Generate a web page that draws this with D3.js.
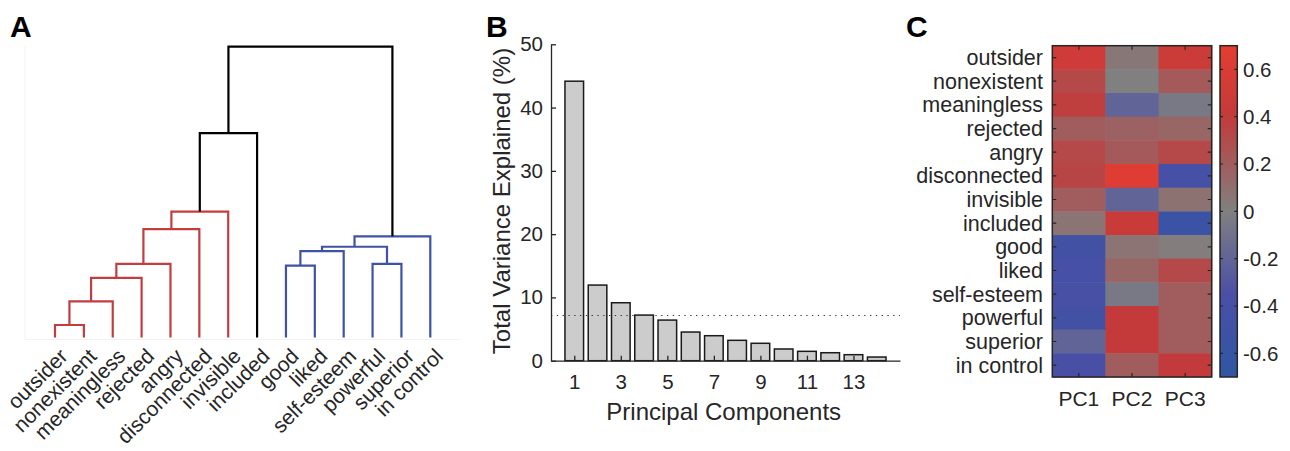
<!DOCTYPE html>
<html>
<head>
<meta charset="utf-8">
<script src="https://cdn.jsdelivr.net/npm/d3@7"></script>
<style>
  body { margin: 0; background: #fff; }
  svg { display: block; font-family: 'Liberation Sans', Arial, sans-serif; }
  .axis path, .axis line { stroke: #262626; stroke-width: 1.3; }
  .axis text { fill: #262626; font-size: 20.5px; font-family: 'Liberation Sans', Arial, sans-serif; }
  .lbl { fill: #262626; }
</style>
</head>
<body>
<div id="chart"></div>
<script>
// ---- data ----
const leafLabels = ['outsider','nonexistent','meaningless','rejected','angry','disconnected',
  'invisible','included','good','liked','self-esteem','powerful','superior','in control'];

// linkage rows: [child1, child2, height]; leaves are 0..13, new nodes 14, 15, ...
const linkage = [
  [0, 1, 0.043],
  [14, 2, 0.124],
  [15, 3, 0.205],
  [8, 9, 0.247],
  [16, 4, 0.253],
  [11, 12, 0.253],
  [17, 10, 0.297],
  [20, 19, 0.312],
  [21, 13, 0.348],
  [18, 5, 0.373],
  [23, 6, 0.433],
  [24, 7, 0.703],
  [25, 22, 1.0]
];
const linkCluster = ['r','r','r','b','r','b','b','b','b','r','r','k','k'];

const pcs = [1,2,3,4,5,6,7,8,9,10,11,12,13,14];
const varianceExplained = [44.17, 11.95, 9.16, 7.21, 6.42, 4.53, 3.95, 3.22, 2.75, 1.85, 1.48, 1.26, 0.95, 0.58];
const varianceThreshold = 100 / 14;
const yTicksB = [0, 10, 20, 30, 40, 50];
const xTicksB = [1, 3, 5, 7, 9, 11, 13];

const heatRows = leafLabels;
const heatCols = ['PC1','PC2','PC3'];
const loadPC1 = [0.50, 0.32, 0.38, 0.20, 0.32, 0.34, 0.20, 0.07, -0.45, -0.42, -0.38, -0.45, -0.20, -0.35];
const loadPC2 = [0.05, 0.00, -0.20, 0.17, 0.22, 0.65, -0.20, 0.45, 0.07, 0.15, -0.05, 0.42, 0.42, 0.20];
const loadPC3 = [0.48, 0.22, -0.05, 0.15, 0.32, -0.42, 0.08, -0.55, 0.02, 0.32, 0.20, 0.20, 0.20, 0.40];
const cbarTicks = [-0.6, -0.4, -0.2, 0, 0.2, 0.4, 0.6];
const cmapValues = [-0.7, -0.35, 0, 0.4, 0.7];
const cmapColors = ['#3056a4', '#4a4fa6', '#808080', '#c23a3b', '#e53d31'];

// ---- setup ----
const W = 1290, H = 451;
const ink = '#262626';
const svg = d3.select('#chart').append('svg')
  .attr('width', W).attr('height', H);

const panelLetters = [{ t: 'A', x: 10 }, { t: 'B', x: 486 }, { t: 'C', x: 906 }];
svg.selectAll('text.panel').data(panelLetters).enter()
  .append('text')
    .attr('class', 'panel')
    .attr('x', d => d.x).attr('y', 37)
    .style('font-size', '30px').style('font-weight', 'bold')
    .text(d => d.t);

// ---- A: dendrogram ----
const gA = svg.append('g');
const xA = d3.scalePoint().domain(leafLabels).range([55, 430.3]);
const yA = d3.scaleLinear().domain([0, 1]).range([337.5, 46.7]);
const clusterColor = { r: '#c43d3e', b: '#3e53a6', k: '#000000' };

// faint axes box as in the original
gA.append('path')
  .attr('d', `M25,46V339.5H460`)
  .attr('fill', 'none').attr('stroke', '#f3f3f3').attr('stroke-width', 1);

const nodePos = leafLabels.map(l => ({ x: xA(l), h: 0 }));
linkage.forEach(([a, b, h], i) => {
  const pa = nodePos[a], pb = nodePos[b];
  const col = clusterColor[linkCluster[i]];
  gA.append('path')
    .attr('d', `M${pa.x},${yA(pa.h)}V${yA(h)}H${pb.x}V${yA(pb.h)}`)
    .attr('fill', 'none')
    .attr('stroke', col)
    .attr('stroke-width', 2.2)
    .attr('stroke-linejoin', 'miter');
  nodePos.push({ x: (pa.x + pb.x) / 2, h });
});

gA.selectAll('text.leaf').data(leafLabels).enter()
  .append('text')
    .attr('class', 'lbl leaf')
    .attr('text-anchor', 'end')
    .attr('transform', d => `translate(${xA(d) + 14},${357.5}) rotate(-45)`)
    .style('font-size', '21px')
    .text(d => d);

// ---- B: variance explained ----
const gB = svg.append('g');
const xB = d3.scaleLinear().domain([0, 15]).range([551, 900]);
const yB = d3.scaleLinear().domain([0, 50]).range([360.7, 44.3]);
const barW = (xB(1) - xB(0)) * 0.8;

gB.selectAll('rect.bar').data(varianceExplained).enter()
  .append('rect')
    .attr('class', 'bar')
    .attr('x', (d, i) => xB(pcs[i]) - barW / 2)
    .attr('y', d => yB(d))
    .attr('width', barW)
    .attr('height', d => yB(0) - yB(d))
    .attr('fill', '#cccccc')
    .attr('stroke', '#1a1a1a')
    .attr('stroke-width', 1.5);

gB.append('line')
  .attr('x1', xB(0)).attr('x2', xB(15))
  .attr('y1', yB(varianceThreshold)).attr('y2', yB(varianceThreshold))
  .attr('stroke', '#333').attr('stroke-width', 1.2)
  .attr('stroke-dasharray', '1.3,4.5');

gB.append('g')
  .attr('class', 'axis')
  .attr('transform', `translate(${xB(0)},0)`)
  .call(d3.axisLeft(yB).tickValues(yTicksB).tickSizeInner(-5).tickSizeOuter(0).tickPadding(8));

gB.append('g')
  .attr('class', 'axis')
  .attr('transform', `translate(0,${yB(0)})`)
  .call(d3.axisBottom(xB).tickValues(xTicksB).tickSizeInner(-5).tickSizeOuter(0).tickPadding(14));

gB.append('text')
  .attr('class', 'lbl')
  .attr('x', 723.7).attr('y', 420)
  .attr('text-anchor', 'middle')
  .style('font-size', '24px')
  .text('Principal Components');

gB.append('text')
  .attr('class', 'lbl')
  .attr('transform', 'translate(510,201) rotate(-90)')
  .attr('text-anchor', 'middle')
  .style('font-size', '24px')
  .text('Total Variance Explained (%)');

// ---- C: loadings heatmap ----
const gC = svg.append('g');
const xC = d3.scaleBand().domain(heatCols).range([1052.3, 1211.7]);
const yC = d3.scaleBand().domain(heatRows).range([45.7, 377]);
const cmap = d3.scaleLinear().domain(cmapValues).range(cmapColors).interpolate(d3.interpolateRgb).clamp(true);
const loadings = [loadPC1, loadPC2, loadPC3];
const cells = [];
heatCols.forEach((c, j) => heatRows.forEach((r, i) => cells.push({ c, r, v: loadings[j][i] })));

gC.selectAll('rect.cell').data(cells).enter()
  .append('rect')
    .attr('class', 'cell')
    .attr('x', d => xC(d.c))
    .attr('y', d => yC(d.r))
    .attr('width', xC.bandwidth() + 0.5)
    .attr('height', yC.bandwidth() + 0.5)
    .attr('fill', d => cmap(d.v));

const x0 = xC.range()[0], x1 = xC.range()[1], y0 = yC.range()[0], y1 = yC.range()[1];
const tick = 4;
heatRows.forEach(r => {
  const yy = yC(r) + yC.bandwidth() / 2;
  gC.append('path').attr('d', `M${x0},${yy}h${tick}M${x1},${yy}h${-tick}`)
    .attr('stroke', ink).attr('stroke-width', 1.2);
});
heatCols.forEach(c => {
  const xx = xC(c) + xC.bandwidth() / 2;
  gC.append('path').attr('d', `M${xx},${y0}v${tick}M${xx},${y1}v${-tick}`)
    .attr('stroke', ink).attr('stroke-width', 1.2);
});
gC.append('rect')
  .attr('x', x0).attr('y', y0)
  .attr('width', x1 - x0).attr('height', y1 - y0)
  .attr('fill', 'none').attr('stroke', ink).attr('stroke-width', 1.5);

gC.selectAll('text.row').data(heatRows).enter()
  .append('text')
    .attr('class', 'lbl row')
    .attr('x', 1043)
    .attr('y', d => yC(d) + yC.bandwidth() / 2)
    .attr('dy', '0.35em')
    .attr('text-anchor', 'end')
    .style('font-size', '21.5px')
    .text(d => d);

gC.selectAll('text.col').data(heatCols).enter()
  .append('text')
    .attr('class', 'lbl col')
    .attr('x', d => xC(d) + xC.bandwidth() / 2)
    .attr('y', 406)
    .attr('text-anchor', 'middle')
    .style('font-size', '21px')
    .text(d => d);

// colorbar
const cbX = 1220, cbW = 17.3;
const yCb = d3.scaleLinear().domain([-0.7, 0.7]).range([377, 45.7]);
const grad = svg.append('defs').append('linearGradient')
  .attr('id', 'cbgrad').attr('x1', 0).attr('y1', 1).attr('x2', 0).attr('y2', 0);
const gradStops = d3.range(0, 1.0001, 0.05);
grad.selectAll('stop').data(gradStops).enter()
  .append('stop')
    .attr('offset', d => d)
    .attr('stop-color', d => cmap(-0.7 + 1.4 * d));
gC.append('rect')
  .attr('x', cbX).attr('y', yCb(0.7))
  .attr('width', cbW).attr('height', yCb(-0.7) - yCb(0.7))
  .attr('fill', 'url(#cbgrad)')
  .attr('stroke', ink).attr('stroke-width', 1.5);
cbarTicks.forEach(t => {
  gC.append('path').attr('d', `M${cbX},${yCb(t)}h3M${cbX + cbW},${yCb(t)}h-3`)
    .attr('stroke', ink).attr('stroke-width', 1.2);
});
gC.selectAll('text.cb').data(cbarTicks).enter()
  .append('text')
    .attr('class', 'lbl cb')
    .attr('x', 1243)
    .attr('y', d => yCb(d))
    .attr('dy', '0.35em')
    .style('font-size', '20.5px')
    .text(d => String(+d.toFixed(1)));
</script>
</body>
</html>
